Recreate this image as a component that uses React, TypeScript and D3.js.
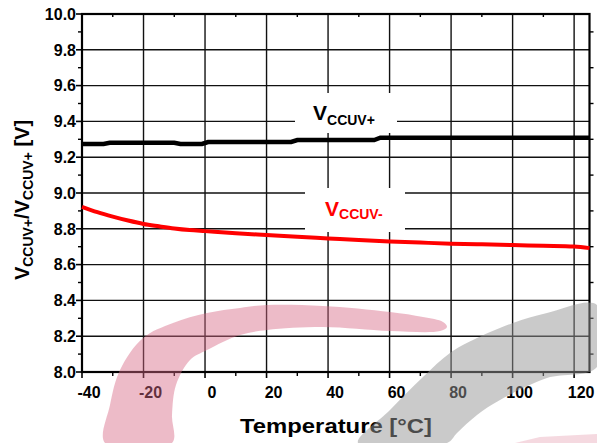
import React from "react";
import * as d3 from "d3";

const xTicks = [-40, -20, 0, 20, 40, 60, 80, 100, 120];
const xMinor = [-30, -10, 10, 30, 50, 70, 90, 110];
const yTicks = [8.0, 8.2, 8.4, 8.6, 8.8, 9.0, 9.2, 9.4, 9.6, 9.8, 10.0];
const yMinor = [8.1, 8.3, 8.5, 8.7, 8.9, 9.1, 9.3, 9.5, 9.7, 9.9];

// V_CCUV+ (black, stepped)
const plusTemp = [-40, -33, -31, -10, -8, -1, 1, 28, 30, 55, 57, 125];
const plusVolt = [9.274, 9.274, 9.281, 9.281, 9.274, 9.274, 9.285, 9.285, 9.296, 9.296, 9.309, 9.309];

// V_CCUV- (red)
const minusTemp = [-40, -35, -30, -25, -20, -15, -10, -5, 0, 10, 20, 30, 40, 50, 60, 70, 80, 90, 100, 110, 120, 125];
const minusVolt = [8.923, 8.893, 8.868, 8.846, 8.827, 8.814, 8.802, 8.793, 8.787, 8.775, 8.765, 8.755, 8.746, 8.737, 8.729, 8.723, 8.717, 8.713, 8.709, 8.705, 8.701, 8.692];

const FONT = "'Liberation Sans', Arial, Helvetica, sans-serif";

// decorative watermark outlines (pixel space)
const pinkOutline: [number, number][] = [
  [105, 443], [110, 405], [120, 370], [143, 338], [173, 323], [207, 313], [240, 308], [267, 305],
  [323, 306], [390, 312], [423, 317], [443, 322], [447, 327], [440, 331], [390, 331], [323, 327],
  [267, 330], [240, 335], [207, 350], [190, 360], [176, 385], [172, 415], [172, 443],
];
const grayOutline: [number, number][] = [
  [358, 443], [390, 410], [423, 377], [450, 353], [473, 340], [513, 323], [547, 313], [597, 305],
  [597, 367], [547, 378], [500, 400], [477, 415], [457, 433], [447, 443],
];
const pinkCorner: [number, number][] = [[515, 443], [540, 437], [597, 434], [597, 443]];

export default function App() {
  const W = 597, H = 443;
  const x = d3.scaleLinear().domain([-40, 125]).range([82, 589.5]);
  const y = d3.scaleLinear().domain([8, 10]).range([372, 14]);
  const line = d3.line<[number, number]>().x(d => x(d[0])).y(d => y(d[1]));
  const plusPts = plusTemp.map((t, i) => [t, plusVolt[i]] as [number, number]);
  const minusPts = minusTemp.map((t, i) => [t, minusVolt[i]] as [number, number]);
  const redLine = d3.line<[number, number]>().x(d => x(d[0])).y(d => y(d[1])).curve(d3.curveMonotoneX);
  const blob = d3.line<[number, number]>().curve(d3.curveCatmullRomClosed.alpha(0.5));
  const poly = d3.line<[number, number]>();

  const x0 = x(-40), x1 = x(125), yTop = y(10), yBot = y(8);

  return (
    <svg width={W} height={H} style={{ position: "absolute", left: 0, top: 0, background: "#fff" }} fontFamily={FONT}>
      <rect x={0} y={0} width={W} height={H} fill="#fff" />
      {/* grid */}
      {xTicks.map(t => (
        <line key={"gx" + t} x1={x(t)} x2={x(t)} y1={yTop} y2={yBot} stroke="#111" strokeWidth={1.4} />
      ))}
      {yTicks.map(t => (
        <line key={"gy" + t} x1={x0} x2={x1} y1={y(t)} y2={y(t)} stroke="#111" strokeWidth={1.4} />
      ))}
      {/* label backgrounds */}
      <rect x={295} y={93} width={102} height={40} fill="#fff" />
      <rect x={305} y={188} width={100} height={44} fill="#fff" />
      {/* ticks */}
      {yTicks.map(t => (
        <line key={"ly" + t} x1={x0 - 6} x2={x0} y1={y(t)} y2={y(t)} stroke="#000" strokeWidth={1.6} />
      ))}
      {yMinor.map(t => (
        <g key={"my" + t}>
          <line x1={x0 - 4} x2={x0} y1={y(t)} y2={y(t)} stroke="#000" strokeWidth={1.4} />
          <line x1={x1} x2={x1 + 4} y1={y(t)} y2={y(t)} stroke="#000" strokeWidth={1.4} />
        </g>
      ))}
      {xTicks.map(t => (
        <line key={"bx" + t} x1={x(t)} x2={x(t)} y1={yBot} y2={yBot + 6} stroke="#000" strokeWidth={1.6} />
      ))}
      {xMinor.map(t => (
        <g key={"mx" + t}>
          <line x1={x(t)} x2={x(t)} y1={yBot} y2={yBot + 4} stroke="#000" strokeWidth={1.4} />
          <line x1={x(t)} x2={x(t)} y1={yTop} y2={yTop + 3} stroke="#000" strokeWidth={1.4} />
        </g>
      ))}
      {/* frame */}
      <rect x={x0} y={yTop} width={x1 - x0} height={yBot - yTop} fill="none" stroke="#000" strokeWidth={2.2} />
      {/* data */}
      <path d={line(plusPts) || ""} fill="none" stroke="#000" strokeWidth={4.5} />
      <path d={redLine(minusPts) || ""} fill="none" stroke="#ff0000" strokeWidth={4} />
      {/* series labels */}
      <text x={313} y={120} fontWeight="bold" fill="#000">
        <tspan fontSize={21}>V</tspan>
        <tspan fontSize={14} dy={5}>CCUV+</tspan>
      </text>
      <text x={325} y={216} fontWeight="bold" fill="#ff0000">
        <tspan fontSize={21}>V</tspan>
        <tspan fontSize={14} dy={3}>CCUV-</tspan>
      </text>
      {/* tick labels */}
      {yTicks.map(t => (
        <text key={"ty" + t} x={76} y={y(t)} dy="0.36em" textAnchor="end" fontSize={16} fontWeight="bold" fill="#000">
          {t.toFixed(1)}
        </text>
      ))}
      {xTicks.map(t => (
        <text key={"tx" + t} x={x(t) + 7} y={398} textAnchor="middle" fontSize={16} fontWeight="bold" fill="#000">
          {t}
        </text>
      ))}
      {/* axis titles */}
      <text x={240} y={433} fontSize={21} fontWeight="bold" textLength={192} lengthAdjust="spacingAndGlyphs" fill="#000">
        Temperature [°C]
      </text>
      <text transform="translate(28.5,200) rotate(-90)" textAnchor="middle" fontWeight="bold" fill="#000">
        <tspan fontSize={20}>V</tspan>
        <tspan fontSize={14} dy={4}>CCUV+</tspan>
        <tspan fontSize={20} dy={-4}>/V</tspan>
        <tspan fontSize={14} dy={4}>CCUV+</tspan>
        <tspan fontSize={20} dy={-4}> [V]</tspan>
      </text>
      {/* watermark */}
      <path d={blob(pinkOutline) || ""} fill="rgb(214,105,133)" fillOpacity={0.45} />
      <path d={blob(grayOutline) || ""} fill="rgb(150,150,150)" fillOpacity={0.5} />
      <path d={poly(pinkCorner) + "Z"} fill="rgb(214,105,133)" fillOpacity={0.25} />
    </svg>
  );
}
